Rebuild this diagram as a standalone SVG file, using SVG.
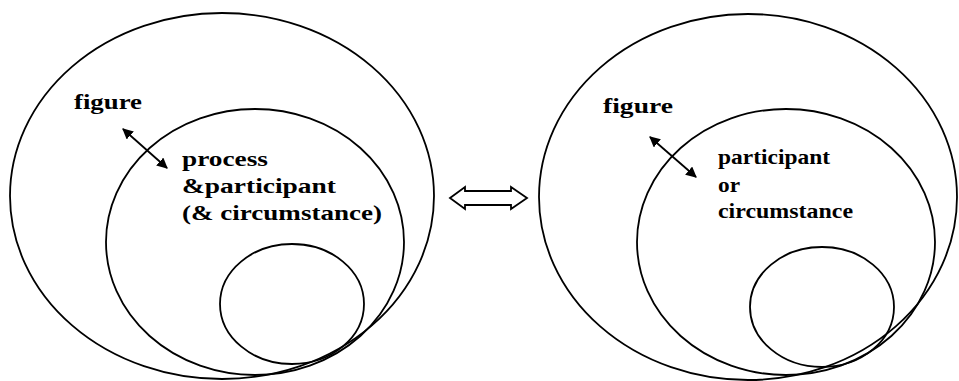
<svg xmlns="http://www.w3.org/2000/svg" width="959" height="381" viewBox="0 0 959 381">
<style>
.e{fill:none;stroke:#000;stroke-width:1.8}
.t{font-family:"Liberation Serif","Times New Roman",serif;font-weight:bold;font-size:22px;fill:#000}
.c{stroke:#000;stroke-width:1.8;fill:none}
</style>
<defs>
<marker id="ah" viewBox="0 0 10 10" refX="9" refY="5" markerWidth="6" markerHeight="6" orient="auto-start-reverse" markerUnits="strokeWidth">
<path d="M0,0 L10,5 L0,10 z" fill="#000"/>
</marker>
</defs>
<rect width="959" height="381" fill="#fff"/>
<g id="left">
<g id="left-outer"><ellipse class="e" cx="222" cy="196" rx="212" ry="183"/></g>
<g id="left-middle"><ellipse class="e" cx="255" cy="242" rx="149" ry="133"/></g>
<g id="left-inner"><ellipse class="e" cx="292" cy="304" rx="72" ry="60"/></g>
<g id="left-figure"><text class="t" x="74" y="109" textLength="68" lengthAdjust="spacingAndGlyphs">figure</text></g>
<g id="left-label">
<text class="t" x="182" y="166" textLength="86" lengthAdjust="spacingAndGlyphs">process</text>
<text class="t" x="182" y="193" textLength="154" lengthAdjust="spacingAndGlyphs">&amp;participant</text>
<text class="t" x="182" y="220" textLength="200" lengthAdjust="spacingAndGlyphs">(&amp; circumstance)</text>
</g>
</g>
<g id="right">
<g id="right-outer"><ellipse class="e" cx="748" cy="197" rx="209" ry="183"/></g>
<g id="right-middle"><ellipse class="e" cx="786" cy="242" rx="149" ry="133"/></g>
<g id="right-inner"><ellipse class="e" cx="822" cy="307" rx="72" ry="60"/></g>
<g id="right-figure"><text class="t" x="603" y="113" textLength="70" lengthAdjust="spacingAndGlyphs">figure</text></g>
<g id="right-label">
<text class="t" x="718" y="164" textLength="112" lengthAdjust="spacingAndGlyphs">participant</text>
<text class="t" x="718" y="192" textLength="22" lengthAdjust="spacingAndGlyphs">or</text>
<text class="t" x="718" y="218" textLength="135" lengthAdjust="spacingAndGlyphs">circumstance</text>
</g>
</g>
<g id="connectors">
<line class="c" x1="123" y1="129" x2="167" y2="168" marker-start="url(#ah)" marker-end="url(#ah)"/>
<line class="c" x1="650" y1="137" x2="696" y2="177" marker-start="url(#ah)" marker-end="url(#ah)"/>
<polygon points="450,198 465,187 465,191 511,191 511,187 527,198 511,209 511,205 465,205 465,209" fill="#fff" stroke="#000" stroke-width="1.8" stroke-linejoin="miter"/>
</g>
</svg>
